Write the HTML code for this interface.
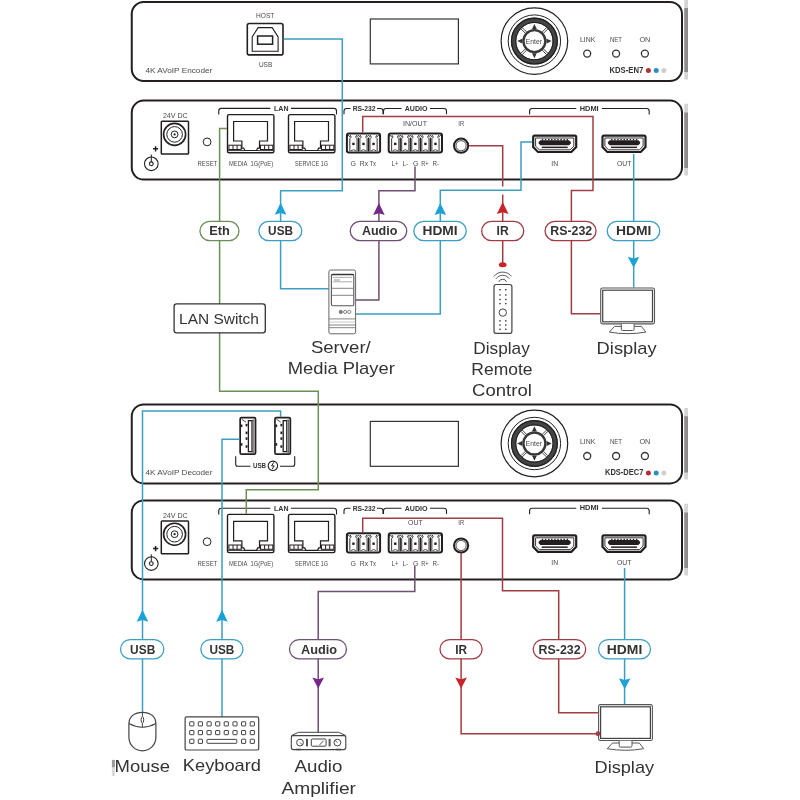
<!DOCTYPE html><html><head><meta charset="utf-8"><style>html,body{margin:0;padding:0;background:#fff;width:800px;height:800px;overflow:hidden}svg{display:block;will-change:transform;font-family:"Liberation Sans",sans-serif}</style></head><body>
<svg width="800" height="800" viewBox="0 0 800 800">
<rect x="684.3" y="0" width="3.7" height="79.5" fill="#d4d4d4"/>
<rect x="684.3" y="8" width="3.7" height="64" fill="#8c8c8c"/>
<rect x="684.3" y="103.75" width="3.7" height="71.75" fill="#d4d4d4"/>
<rect x="684.3" y="112.5" width="3.7" height="55.5" fill="#8c8c8c"/>
<rect x="684.3" y="408" width="3.7" height="71.5" fill="#d4d4d4"/>
<rect x="684.3" y="416.25" width="3.7" height="56.25" fill="#8c8c8c"/>
<rect x="684.3" y="503.75" width="3.7" height="71.75" fill="#d4d4d4"/>
<rect x="684.3" y="512.5" width="3.7" height="55.5" fill="#8c8c8c"/>
<rect x="131.75" y="2" width="550.25" height="79" rx="12" ry="12" fill="none" stroke="#231f20" stroke-width="2"/>
<rect x="370.3" y="19" width="88.1" height="44.9" fill="none" stroke="#333" stroke-width="1.2"/>
<circle cx="534.4" cy="41.1" r="33.3" fill="none" stroke="#231f20" stroke-width="1.2"/>
<circle cx="534.4" cy="41.1" r="26.2" fill="none" stroke="#231f20" stroke-width="1"/>
<circle cx="534.4" cy="41.1" r="20.8" fill="none" stroke="#444" stroke-width="5.4"/>
<circle cx="534.4" cy="41.1" r="22.9" fill="none" stroke="#1e1e1e" stroke-width="1.2"/>
<circle cx="534.4" cy="41.1" r="18.7" fill="none" stroke="#1e1e1e" stroke-width="1"/>
<circle cx="534.4" cy="41.1" r="11" fill="#fff" stroke="#383838" stroke-width="2.4"/>
<line x1="543.52" y1="48.95" x2="547.98" y2="53.40" stroke="#333" stroke-width="0.9"/>
<line x1="542.25" y1="50.22" x2="546.70" y2="54.68" stroke="#333" stroke-width="0.9"/>
<line x1="526.55" y1="50.22" x2="522.10" y2="54.68" stroke="#333" stroke-width="0.9"/>
<line x1="525.28" y1="48.95" x2="520.82" y2="53.40" stroke="#333" stroke-width="0.9"/>
<line x1="525.28" y1="33.25" x2="520.82" y2="28.80" stroke="#333" stroke-width="0.9"/>
<line x1="526.55" y1="31.98" x2="522.10" y2="27.52" stroke="#333" stroke-width="0.9"/>
<line x1="542.25" y1="31.98" x2="546.70" y2="27.52" stroke="#333" stroke-width="0.9"/>
<line x1="543.52" y1="33.25" x2="547.98" y2="28.80" stroke="#333" stroke-width="0.9"/>
<path d="M534.4,23.900000000000002 l2.4,5 h-4.8 z M534.4,58.3 l2.4,-5 h-4.8 z M517.1999999999999,41.1 l5,2.4 v-4.8 z M551.6,41.1 l-5,2.4 v-4.8 z" fill="#333"/>
<text x="525.60" y="43.5" font-size="7" fill="#4a4a4a" font-weight="normal" textLength="16.39" lengthAdjust="spacingAndGlyphs">Enter</text>
<circle cx="587.2" cy="53.6" r="3.5" fill="none" stroke="#333" stroke-width="1.3"/>
<text x="579.90" y="41.5" font-size="7" fill="#4a4a4a" font-weight="normal" textLength="15.41" lengthAdjust="spacingAndGlyphs">LINK</text>
<circle cx="616.1" cy="53.6" r="3.5" fill="none" stroke="#333" stroke-width="1.3"/>
<text x="609.90" y="41.5" font-size="7" fill="#4a4a4a" font-weight="normal" textLength="12.10" lengthAdjust="spacingAndGlyphs">NET</text>
<circle cx="644.9" cy="53.6" r="3.5" fill="none" stroke="#333" stroke-width="1.3"/>
<text x="639.40" y="41.5" font-size="7" fill="#4a4a4a" font-weight="normal" textLength="10.87" lengthAdjust="spacingAndGlyphs">ON</text>
<text x="609.50" y="72.5" font-size="8.5" fill="#333" font-weight="bold" textLength="33.78" lengthAdjust="spacingAndGlyphs">KDS-EN7</text>
<circle cx="648.4" cy="70.6" r="2.5" fill="#b52e3a"/>
<circle cx="656.2" cy="70.6" r="2.5" fill="#2a8fc0"/>
<circle cx="663.9" cy="70.6" r="2.5" fill="#cfcfcf"/>
<text x="145.50" y="72.7" font-size="7.8" fill="#4a4a4a" font-weight="normal" textLength="66.76" lengthAdjust="spacingAndGlyphs">4K AVoIP Encoder</text>
<rect x="247.3" y="23.5" width="35.7" height="31.4" rx="2" fill="none" stroke="#231f20" stroke-width="1.6"/>
<path d="M258.1,27.6 H272.2 L278.1,36.9 V51.3 H252.2 V36.9 Z" fill="none" stroke="#231f20" stroke-width="1.1"/>
<rect x="257.6" y="36" width="15" height="8.2" fill="none" stroke="#231f20" stroke-width="1.5"/>
<text x="256.00" y="17.5" font-size="7" fill="#4a4a4a" font-weight="normal" textLength="18.33" lengthAdjust="spacingAndGlyphs">HOST</text>
<text x="258.90" y="66.6" font-size="7" fill="#4a4a4a" font-weight="normal" textLength="13.38" lengthAdjust="spacingAndGlyphs">USB</text>
<rect x="131.75" y="100.6" width="550.25" height="79.0" rx="12" ry="12" fill="none" stroke="#231f20" stroke-width="2"/>
<rect x="161.3" y="121.3" width="27.2" height="32.7" rx="0.8" fill="none" stroke="#231f20" stroke-width="1.5"/>
<circle cx="174.6" cy="134.4" r="11" fill="none" stroke="#231f20" stroke-width="1.6"/>
<circle cx="174.6" cy="134.4" r="7.8" fill="none" stroke="#231f20" stroke-width="1"/>
<circle cx="174.6" cy="134.4" r="3.4" fill="none" stroke="#231f20" stroke-width="1"/>
<circle cx="174.6" cy="134.4" r="1.1" fill="#231f20"/>
<text x="162.90" y="118.2" font-size="7.4" fill="#4a4a4a" font-weight="normal" textLength="24.86" lengthAdjust="spacingAndGlyphs">24V DC</text>
<circle cx="151.3" cy="163.8" r="6.8" fill="none" stroke="#231f20" stroke-width="1.1"/>
<circle cx="151.3" cy="163.8" r="1.9" fill="none" stroke="#231f20" stroke-width="1.1"/>
<line x1="151.3" y1="154.5" x2="151.3" y2="161.9" stroke="#231f20" stroke-width="1"/>
<path d="M153,148.8 h5.2 M155.6,146.2 v5.2" stroke="#231f20" stroke-width="1.5"/>
<circle cx="207.1" cy="141.9" r="3.9" fill="none" stroke="#231f20" stroke-width="1"/>
<text x="197.50" y="165.9" font-size="7.2" fill="#4a4a4a" font-weight="normal" textLength="19.67" lengthAdjust="spacingAndGlyphs">RESET</text>
<path d="M218.75,114.6 V110.9 Q218.75,108.4 221.25,108.4 H270.3 M291,108.4 H334.0 Q336.5,108.4 336.5,110.9 V114.6" fill="none" stroke="#231f20" stroke-width="1.1"/>
<text x="274.10" y="110.7" font-size="7" fill="#333" font-weight="bold" textLength="14.39" lengthAdjust="spacingAndGlyphs">LAN</text>
<rect x="227.5" y="114.6" width="46.4" height="38.2" rx="1.5" fill="none" stroke="#231f20" stroke-width="1.4"/>
<path d="M233.6,121.5 H267.5 V141 H259.5 V148.1 H257.7 L256.5,150.5 H244.9 L243.70000000000002,148.1 H241.9 V141 H233.6 Z" fill="none" stroke="#231f20" stroke-width="1.2"/>
<rect x="228.90" y="145.2" width="12.3" height="4.3" fill="none" stroke="#231f20" stroke-width="1"/>
<rect x="232.50" y="145.2" width="1" height="4.3" fill="#231f20"/>
<rect x="236.60" y="145.2" width="1" height="4.3" fill="#231f20"/>
<rect x="260.50" y="145.2" width="12.3" height="4.3" fill="none" stroke="#231f20" stroke-width="1"/>
<rect x="264.10" y="145.2" width="1" height="4.3" fill="#231f20"/>
<rect x="268.20" y="145.2" width="1" height="4.3" fill="#231f20"/>
<path d="M227.9,150.6 H244.9 M256.5,150.6 H273.5" fill="none" stroke="#231f20" stroke-width="0.9"/>
<rect x="288.5" y="114.6" width="46.4" height="38.2" rx="1.5" fill="none" stroke="#231f20" stroke-width="1.4"/>
<path d="M294.59999999999997,121.5 H328.5 V141 H320.5 V148.1 H318.7 L317.5,150.5 H305.9 L304.7,148.1 H302.9 V141 H294.59999999999997 Z" fill="none" stroke="#231f20" stroke-width="1.2"/>
<rect x="289.90" y="145.2" width="12.3" height="4.3" fill="none" stroke="#231f20" stroke-width="1"/>
<rect x="293.50" y="145.2" width="1" height="4.3" fill="#231f20"/>
<rect x="297.60" y="145.2" width="1" height="4.3" fill="#231f20"/>
<rect x="321.50" y="145.2" width="12.3" height="4.3" fill="none" stroke="#231f20" stroke-width="1"/>
<rect x="325.10" y="145.2" width="1" height="4.3" fill="#231f20"/>
<rect x="329.20" y="145.2" width="1" height="4.3" fill="#231f20"/>
<path d="M288.9,150.6 H305.9 M317.5,150.6 H334.5" fill="none" stroke="#231f20" stroke-width="0.9"/>
<text x="229.00" y="165.7" font-size="6.6" fill="#4a4a4a" font-weight="normal" textLength="44.08" lengthAdjust="spacingAndGlyphs">MEDIA&#160;&#160;1G(PoE)</text>
<text x="295.00" y="165.7" font-size="6.6" fill="#4a4a4a" font-weight="normal" textLength="33.19" lengthAdjust="spacingAndGlyphs">SERVICE 1G</text>
<path d="M344,114.2 V111.0 Q344,108.5 346.5,108.5 H350.5 M377,108.5 H380.5 Q383,108.5 383,111.0 V114.2" fill="none" stroke="#231f20" stroke-width="1.1"/>
<text x="352.70" y="110.9" font-size="7" fill="#333" font-weight="bold" textLength="22.91" lengthAdjust="spacingAndGlyphs">RS-232</text>
<path d="M383.5,114.2 V111.0 Q383.5,108.5 386.0,108.5 H401.5 M430,108.5 H444.0 Q446.5,108.5 446.5,111.0 V114.2" fill="none" stroke="#231f20" stroke-width="1.1"/>
<text x="404.70" y="110.9" font-size="7" fill="#333" font-weight="bold" textLength="22.77" lengthAdjust="spacingAndGlyphs">AUDIO</text>
<text x="403.00" y="125.6" font-size="6.8" fill="#4a4a4a" font-weight="normal" textLength="24.05" lengthAdjust="spacingAndGlyphs">IN/OUT</text>
<rect x="346.9" y="133.5" width="33.18" height="19.1" rx="2" fill="none" stroke="#231f20" stroke-width="2"/>
<path d="M349.83,151.1 V138.7 L351.23,137.1 L350.13,135.1 M357.03,151.1 V138.7 L355.63,137.1 L356.73,135.1" fill="none" stroke="#231f20" stroke-width="0.9"/>
<rect x="352.23" y="142.7" width="2.4" height="2.4" fill="#231f20"/>
<path d="M350.63,150.9 Q353.43,148.5 356.23,150.9" fill="none" stroke="#231f20" stroke-width="0.8"/>
<path d="M359.89,151.1 V138.7 L361.29,137.1 L360.19,135.1 M367.09,151.1 V138.7 L365.69,137.1 L366.79,135.1" fill="none" stroke="#231f20" stroke-width="0.9"/>
<rect x="362.29" y="142.7" width="2.4" height="2.4" fill="#231f20"/>
<path d="M360.69,150.9 Q363.49,148.5 366.29,150.9" fill="none" stroke="#231f20" stroke-width="0.8"/>
<path d="M369.95,151.1 V138.7 L371.35,137.1 L370.25,135.1 M377.15,151.1 V138.7 L375.75,137.1 L376.85,135.1" fill="none" stroke="#231f20" stroke-width="0.9"/>
<rect x="372.35" y="142.7" width="2.4" height="2.4" fill="#231f20"/>
<path d="M370.75,150.9 Q373.55,148.5 376.35,150.9" fill="none" stroke="#231f20" stroke-width="0.8"/>
<path d="M346.80,137.1 L348.40,135.1 L350.00,137.1" fill="none" stroke="#231f20" stroke-width="0.8"/>
<line x1="358.46" y1="137.5" x2="358.46" y2="151.5" stroke="#231f20" stroke-width="1.3"/>
<path d="M356.86,137.1 L358.46,135.1 L360.06,137.1" fill="none" stroke="#231f20" stroke-width="0.8"/>
<line x1="368.52" y1="137.5" x2="368.52" y2="151.5" stroke="#231f20" stroke-width="1.3"/>
<path d="M366.92,137.1 L368.52,135.1 L370.12,137.1" fill="none" stroke="#231f20" stroke-width="0.8"/>
<path d="M376.98,137.1 L378.58,135.1 L380.18,137.1" fill="none" stroke="#231f20" stroke-width="0.8"/>
<rect x="388.7" y="133.5" width="53.30" height="19.1" rx="2" fill="none" stroke="#231f20" stroke-width="2"/>
<path d="M391.63,151.1 V138.7 L393.03,137.1 L391.93,135.1 M398.83,151.1 V138.7 L397.43,137.1 L398.53,135.1" fill="none" stroke="#231f20" stroke-width="0.9"/>
<rect x="394.03" y="142.7" width="2.4" height="2.4" fill="#231f20"/>
<path d="M392.43,150.9 Q395.23,148.5 398.03,150.9" fill="none" stroke="#231f20" stroke-width="0.8"/>
<path d="M401.69,151.1 V138.7 L403.09,137.1 L401.99,135.1 M408.89,151.1 V138.7 L407.49,137.1 L408.59,135.1" fill="none" stroke="#231f20" stroke-width="0.9"/>
<rect x="404.09" y="142.7" width="2.4" height="2.4" fill="#231f20"/>
<path d="M402.49,150.9 Q405.29,148.5 408.09,150.9" fill="none" stroke="#231f20" stroke-width="0.8"/>
<path d="M411.75,151.1 V138.7 L413.15,137.1 L412.05,135.1 M418.95,151.1 V138.7 L417.55,137.1 L418.65,135.1" fill="none" stroke="#231f20" stroke-width="0.9"/>
<rect x="414.15" y="142.7" width="2.4" height="2.4" fill="#231f20"/>
<path d="M412.55,150.9 Q415.35,148.5 418.15,150.9" fill="none" stroke="#231f20" stroke-width="0.8"/>
<path d="M421.81,151.1 V138.7 L423.21,137.1 L422.11,135.1 M429.01,151.1 V138.7 L427.61,137.1 L428.71,135.1" fill="none" stroke="#231f20" stroke-width="0.9"/>
<rect x="424.21" y="142.7" width="2.4" height="2.4" fill="#231f20"/>
<path d="M422.61,150.9 Q425.41,148.5 428.21,150.9" fill="none" stroke="#231f20" stroke-width="0.8"/>
<path d="M431.87,151.1 V138.7 L433.27,137.1 L432.17,135.1 M439.07,151.1 V138.7 L437.67,137.1 L438.77,135.1" fill="none" stroke="#231f20" stroke-width="0.9"/>
<rect x="434.27" y="142.7" width="2.4" height="2.4" fill="#231f20"/>
<path d="M432.67,150.9 Q435.47,148.5 438.27,150.9" fill="none" stroke="#231f20" stroke-width="0.8"/>
<path d="M388.60,137.1 L390.20,135.1 L391.80,137.1" fill="none" stroke="#231f20" stroke-width="0.8"/>
<line x1="400.26" y1="137.5" x2="400.26" y2="151.5" stroke="#231f20" stroke-width="1.3"/>
<path d="M398.66,137.1 L400.26,135.1 L401.86,137.1" fill="none" stroke="#231f20" stroke-width="0.8"/>
<line x1="410.32" y1="137.5" x2="410.32" y2="151.5" stroke="#231f20" stroke-width="1.3"/>
<path d="M408.72,137.1 L410.32,135.1 L411.92,137.1" fill="none" stroke="#231f20" stroke-width="0.8"/>
<line x1="420.38" y1="137.5" x2="420.38" y2="151.5" stroke="#231f20" stroke-width="1.3"/>
<path d="M418.78,137.1 L420.38,135.1 L421.98,137.1" fill="none" stroke="#231f20" stroke-width="0.8"/>
<line x1="430.44" y1="137.5" x2="430.44" y2="151.5" stroke="#231f20" stroke-width="1.3"/>
<path d="M428.84,137.1 L430.44,135.1 L432.04,137.1" fill="none" stroke="#231f20" stroke-width="0.8"/>
<path d="M438.90,137.1 L440.50,135.1 L442.10,137.1" fill="none" stroke="#231f20" stroke-width="0.8"/>
<text x="350.60" y="165.75" font-size="7" fill="#4a4a4a" font-weight="normal" textLength="5.45" lengthAdjust="spacingAndGlyphs">G</text>
<text x="359.75" y="165.75" font-size="7" fill="#4a4a4a" font-weight="normal" textLength="8.29" lengthAdjust="spacingAndGlyphs">Rx</text>
<text x="369.40" y="165.75" font-size="7" fill="#4a4a4a" font-weight="normal" textLength="6.66" lengthAdjust="spacingAndGlyphs">Tx</text>
<text x="391.50" y="165.75" font-size="7" fill="#4a4a4a" font-weight="normal" textLength="6.99" lengthAdjust="spacingAndGlyphs">L+</text>
<text x="402.50" y="165.75" font-size="7" fill="#4a4a4a" font-weight="normal" textLength="5.61" lengthAdjust="spacingAndGlyphs">L-</text>
<text x="413.10" y="165.75" font-size="7" fill="#4a4a4a" font-weight="normal" textLength="5.45" lengthAdjust="spacingAndGlyphs">G</text>
<text x="421.25" y="165.75" font-size="7" fill="#4a4a4a" font-weight="normal" textLength="7.38" lengthAdjust="spacingAndGlyphs">R+</text>
<text x="432.50" y="165.75" font-size="7" fill="#4a4a4a" font-weight="normal" textLength="6.60" lengthAdjust="spacingAndGlyphs">R-</text>
<circle cx="461.1" cy="145.7" r="7.1" fill="none" stroke="#231f20" stroke-width="2"/>
<circle cx="461.1" cy="145.7" r="5.1" fill="none" stroke="#231f20" stroke-width="0.8"/>
<text x="458.30" y="125.6" font-size="6.8" fill="#4a4a4a" font-weight="normal" textLength="5.84" lengthAdjust="spacingAndGlyphs">IR</text>
<path d="M529.6,114.5 V111.0 Q529.6,108.5 532.1,108.5 H576.25 M601.9,108.5 H646.7 Q649.2,108.5 649.2,111.0 V114.5" fill="none" stroke="#231f20" stroke-width="1.1"/>
<text x="579.75" y="110.6" font-size="7" fill="#333" font-weight="bold" textLength="18.88" lengthAdjust="spacingAndGlyphs">HDMI</text>
<path d="M533.2,137.0 Q533.2,135.6 534.6,135.6 H574.8000000000001 Q576.2,135.6 576.2,137.0 V147.0 L571.4000000000001,152.0 H538.0 L533.2,147.0 Z" fill="none" stroke="#231f20" stroke-width="2.2"/>
<path d="M535.6,138.0 H573.8000000000001 V146.2 L570.1,149.79999999999998 H539.3000000000001 L535.6,146.2 Z" fill="none" stroke="#231f20" stroke-width="0.9"/>
<path d="M538.6,142.0 L540.4000000000001,140.2 H569.0 L570.8000000000001,142.0 V143.5 L569.0,145.2 H540.4000000000001 L538.6,143.5 Z" fill="#231f20"/>
<rect x="541.80" y="139.0" width="1.4" height="1.4" fill="#231f20"/>
<rect x="544.90" y="139.0" width="1.4" height="1.4" fill="#231f20"/>
<rect x="548.00" y="139.0" width="1.4" height="1.4" fill="#231f20"/>
<rect x="551.10" y="139.0" width="1.4" height="1.4" fill="#231f20"/>
<rect x="554.20" y="139.0" width="1.4" height="1.4" fill="#231f20"/>
<rect x="557.30" y="139.0" width="1.4" height="1.4" fill="#231f20"/>
<rect x="560.40" y="139.0" width="1.4" height="1.4" fill="#231f20"/>
<rect x="563.50" y="139.0" width="1.4" height="1.4" fill="#231f20"/>
<rect x="566.60" y="139.0" width="1.4" height="1.4" fill="#231f20"/>
<rect x="541.7" y="146.6" width="26" height="1.5" fill="#231f20"/>
<path d="M602.5,137.0 Q602.5,135.6 603.9,135.6 H644.1 Q645.5,135.6 645.5,137.0 V147.0 L640.7,152.0 H607.3 L602.5,147.0 Z" fill="none" stroke="#231f20" stroke-width="2.2"/>
<path d="M604.9,138.0 H643.1 V146.2 L639.4,149.79999999999998 H608.6 L604.9,146.2 Z" fill="none" stroke="#231f20" stroke-width="0.9"/>
<path d="M607.9,142.0 L609.7,140.2 H638.3 L640.1,142.0 V143.5 L638.3,145.2 H609.7 L607.9,143.5 Z" fill="#231f20"/>
<rect x="611.10" y="139.0" width="1.4" height="1.4" fill="#231f20"/>
<rect x="614.20" y="139.0" width="1.4" height="1.4" fill="#231f20"/>
<rect x="617.30" y="139.0" width="1.4" height="1.4" fill="#231f20"/>
<rect x="620.40" y="139.0" width="1.4" height="1.4" fill="#231f20"/>
<rect x="623.50" y="139.0" width="1.4" height="1.4" fill="#231f20"/>
<rect x="626.60" y="139.0" width="1.4" height="1.4" fill="#231f20"/>
<rect x="629.70" y="139.0" width="1.4" height="1.4" fill="#231f20"/>
<rect x="632.80" y="139.0" width="1.4" height="1.4" fill="#231f20"/>
<rect x="635.90" y="139.0" width="1.4" height="1.4" fill="#231f20"/>
<rect x="611.0" y="146.6" width="26" height="1.5" fill="#231f20"/>
<text x="551.25" y="165.6" font-size="7" fill="#4a4a4a" font-weight="normal" textLength="6.85" lengthAdjust="spacingAndGlyphs">IN</text>
<text x="616.90" y="165.6" font-size="7" fill="#4a4a4a" font-weight="normal" textLength="14.46" lengthAdjust="spacingAndGlyphs">OUT</text>
<rect x="131.75" y="404.4" width="550.25" height="79.0" rx="12" ry="12" fill="none" stroke="#231f20" stroke-width="2"/>
<rect x="370.3" y="421.4" width="88.1" height="44.9" fill="none" stroke="#333" stroke-width="1.2"/>
<circle cx="534.4" cy="443.5" r="33.3" fill="none" stroke="#231f20" stroke-width="1.2"/>
<circle cx="534.4" cy="443.5" r="26.2" fill="none" stroke="#231f20" stroke-width="1"/>
<circle cx="534.4" cy="443.5" r="20.8" fill="none" stroke="#444" stroke-width="5.4"/>
<circle cx="534.4" cy="443.5" r="22.9" fill="none" stroke="#1e1e1e" stroke-width="1.2"/>
<circle cx="534.4" cy="443.5" r="18.7" fill="none" stroke="#1e1e1e" stroke-width="1"/>
<circle cx="534.4" cy="443.5" r="11" fill="#fff" stroke="#383838" stroke-width="2.4"/>
<line x1="543.52" y1="451.35" x2="547.98" y2="455.80" stroke="#333" stroke-width="0.9"/>
<line x1="542.25" y1="452.62" x2="546.70" y2="457.08" stroke="#333" stroke-width="0.9"/>
<line x1="526.55" y1="452.62" x2="522.10" y2="457.08" stroke="#333" stroke-width="0.9"/>
<line x1="525.28" y1="451.35" x2="520.82" y2="455.80" stroke="#333" stroke-width="0.9"/>
<line x1="525.28" y1="435.65" x2="520.82" y2="431.20" stroke="#333" stroke-width="0.9"/>
<line x1="526.55" y1="434.38" x2="522.10" y2="429.92" stroke="#333" stroke-width="0.9"/>
<line x1="542.25" y1="434.38" x2="546.70" y2="429.92" stroke="#333" stroke-width="0.9"/>
<line x1="543.52" y1="435.65" x2="547.98" y2="431.20" stroke="#333" stroke-width="0.9"/>
<path d="M534.4,426.3 l2.4,5 h-4.8 z M534.4,460.7 l2.4,-5 h-4.8 z M517.1999999999999,443.5 l5,2.4 v-4.8 z M551.6,443.5 l-5,2.4 v-4.8 z" fill="#333"/>
<text x="525.60" y="445.9" font-size="7" fill="#4a4a4a" font-weight="normal" textLength="16.39" lengthAdjust="spacingAndGlyphs">Enter</text>
<circle cx="587.2" cy="456.0" r="3.5" fill="none" stroke="#333" stroke-width="1.3"/>
<text x="579.90" y="443.9" font-size="7" fill="#4a4a4a" font-weight="normal" textLength="15.41" lengthAdjust="spacingAndGlyphs">LINK</text>
<circle cx="616.1" cy="456.0" r="3.5" fill="none" stroke="#333" stroke-width="1.3"/>
<text x="609.90" y="443.9" font-size="7" fill="#4a4a4a" font-weight="normal" textLength="12.10" lengthAdjust="spacingAndGlyphs">NET</text>
<circle cx="644.9" cy="456.0" r="3.5" fill="none" stroke="#333" stroke-width="1.3"/>
<text x="639.40" y="443.9" font-size="7" fill="#4a4a4a" font-weight="normal" textLength="10.87" lengthAdjust="spacingAndGlyphs">ON</text>
<text x="605.00" y="475.0" font-size="8.5" fill="#333" font-weight="bold" textLength="38.40" lengthAdjust="spacingAndGlyphs">KDS-DEC7</text>
<circle cx="648.4" cy="473.0" r="2.5" fill="#b52e3a"/>
<circle cx="656.2" cy="473.0" r="2.5" fill="#2a8fc0"/>
<circle cx="663.9" cy="473.0" r="2.5" fill="#cfcfcf"/>
<text x="145.50" y="475.0" font-size="7.8" fill="#4a4a4a" font-weight="normal" textLength="66.87" lengthAdjust="spacingAndGlyphs">4K AVoIP Decoder</text>
<rect x="240.15" y="417.60" width="15.4" height="36.5" rx="1.4" fill="none" stroke="#231f20" stroke-width="1.7"/>
<rect x="248.40" y="420.65" width="3.6" height="31" fill="none" stroke="#231f20" stroke-width="1.3"/>
<line x1="253.80" y1="420.15" x2="253.80" y2="452.15" stroke="#333" stroke-width="0.8"/>
<path d="M252.50,420.05 H254.20 M252.50,452.25 H254.20" stroke="#333" stroke-width="0.9"/>
<rect x="240.60" y="424.50" width="1.8" height="2.6" fill="#231f20"/>
<rect x="240.60" y="443.10" width="1.8" height="2.6" fill="#231f20"/>
<rect x="245.60" y="423.85" width="1.9" height="2.5" fill="#231f20"/>
<rect x="245.60" y="431.55" width="1.9" height="2.5" fill="#231f20"/>
<rect x="245.60" y="437.35" width="1.9" height="2.5" fill="#231f20"/>
<rect x="245.60" y="445.25" width="1.9" height="2.5" fill="#231f20"/>
<path d="M241.60,419.15 L245.90,422.15" stroke="#231f20" stroke-width="0.8"/>
<rect x="274.95" y="417.60" width="15.4" height="36.5" rx="1.4" fill="none" stroke="#231f20" stroke-width="1.7"/>
<rect x="283.20" y="420.65" width="3.6" height="31" fill="none" stroke="#231f20" stroke-width="1.3"/>
<line x1="288.60" y1="420.15" x2="288.60" y2="452.15" stroke="#333" stroke-width="0.8"/>
<path d="M287.30,420.05 H289.00 M287.30,452.25 H289.00" stroke="#333" stroke-width="0.9"/>
<rect x="275.40" y="424.50" width="1.8" height="2.6" fill="#231f20"/>
<rect x="275.40" y="443.10" width="1.8" height="2.6" fill="#231f20"/>
<rect x="280.40" y="423.85" width="1.9" height="2.5" fill="#231f20"/>
<rect x="280.40" y="431.55" width="1.9" height="2.5" fill="#231f20"/>
<rect x="280.40" y="437.35" width="1.9" height="2.5" fill="#231f20"/>
<rect x="280.40" y="445.25" width="1.9" height="2.5" fill="#231f20"/>
<path d="M276.40,419.15 L280.70,422.15" stroke="#231f20" stroke-width="0.8"/>
<path d="M235.7,456.2 V464.3 Q235.7,466.3 237.7,466.3 H250.5 M280,466.3 H292.7 Q294.7,466.3 294.7,464.3 V456.2" fill="none" stroke="#231f20" stroke-width="1.1"/>
<text x="252.90" y="468.4" font-size="7.2" fill="#333" font-weight="bold" textLength="13.16" lengthAdjust="spacingAndGlyphs">USB</text>
<circle cx="272.9" cy="465.8" r="4.7" fill="none" stroke="#231f20" stroke-width="1.1"/>
<path d="M273.8,462.3 L271.6,465.9 H274.2 L272,469.3" fill="none" stroke="#231f20" stroke-width="1"/>
<rect x="131.75" y="500.4" width="550.25" height="79.0" rx="12" ry="12" fill="none" stroke="#231f20" stroke-width="2"/>
<rect x="161.3" y="521.1" width="27.2" height="32.7" rx="0.8" fill="none" stroke="#231f20" stroke-width="1.5"/>
<circle cx="174.6" cy="534.2" r="11" fill="none" stroke="#231f20" stroke-width="1.6"/>
<circle cx="174.6" cy="534.2" r="7.8" fill="none" stroke="#231f20" stroke-width="1"/>
<circle cx="174.6" cy="534.2" r="3.4" fill="none" stroke="#231f20" stroke-width="1"/>
<circle cx="174.6" cy="534.2" r="1.1" fill="#231f20"/>
<text x="162.90" y="518.0" font-size="7.4" fill="#4a4a4a" font-weight="normal" textLength="24.86" lengthAdjust="spacingAndGlyphs">24V DC</text>
<circle cx="151.3" cy="563.6" r="6.8" fill="none" stroke="#231f20" stroke-width="1.1"/>
<circle cx="151.3" cy="563.6" r="1.9" fill="none" stroke="#231f20" stroke-width="1.1"/>
<line x1="151.3" y1="554.3" x2="151.3" y2="561.7" stroke="#231f20" stroke-width="1"/>
<path d="M153,548.6 h5.2 M155.6,546.0 v5.2" stroke="#231f20" stroke-width="1.5"/>
<circle cx="207.1" cy="541.7" r="3.9" fill="none" stroke="#231f20" stroke-width="1"/>
<text x="197.50" y="565.7" font-size="7.2" fill="#4a4a4a" font-weight="normal" textLength="19.67" lengthAdjust="spacingAndGlyphs">RESET</text>
<path d="M218.75,514.4 V510.70000000000005 Q218.75,508.20000000000005 221.25,508.20000000000005 H270.3 M291,508.20000000000005 H334.0 Q336.5,508.20000000000005 336.5,510.70000000000005 V514.4" fill="none" stroke="#231f20" stroke-width="1.1"/>
<text x="274.10" y="510.5" font-size="7" fill="#333" font-weight="bold" textLength="14.39" lengthAdjust="spacingAndGlyphs">LAN</text>
<rect x="227.5" y="514.4" width="46.4" height="38.2" rx="1.5" fill="none" stroke="#231f20" stroke-width="1.4"/>
<path d="M233.6,521.3 H267.5 V540.8 H259.5 V547.9 H257.7 L256.5,550.3 H244.9 L243.70000000000002,547.9 H241.9 V540.8 H233.6 Z" fill="none" stroke="#231f20" stroke-width="1.2"/>
<rect x="228.90" y="545.0" width="12.3" height="4.3" fill="none" stroke="#231f20" stroke-width="1"/>
<rect x="232.50" y="545.0" width="1" height="4.3" fill="#231f20"/>
<rect x="236.60" y="545.0" width="1" height="4.3" fill="#231f20"/>
<rect x="260.50" y="545.0" width="12.3" height="4.3" fill="none" stroke="#231f20" stroke-width="1"/>
<rect x="264.10" y="545.0" width="1" height="4.3" fill="#231f20"/>
<rect x="268.20" y="545.0" width="1" height="4.3" fill="#231f20"/>
<path d="M227.9,550.4 H244.9 M256.5,550.4 H273.5" fill="none" stroke="#231f20" stroke-width="0.9"/>
<rect x="288.5" y="514.4" width="46.4" height="38.2" rx="1.5" fill="none" stroke="#231f20" stroke-width="1.4"/>
<path d="M294.59999999999997,521.3 H328.5 V540.8 H320.5 V547.9 H318.7 L317.5,550.3 H305.9 L304.7,547.9 H302.9 V540.8 H294.59999999999997 Z" fill="none" stroke="#231f20" stroke-width="1.2"/>
<rect x="289.90" y="545.0" width="12.3" height="4.3" fill="none" stroke="#231f20" stroke-width="1"/>
<rect x="293.50" y="545.0" width="1" height="4.3" fill="#231f20"/>
<rect x="297.60" y="545.0" width="1" height="4.3" fill="#231f20"/>
<rect x="321.50" y="545.0" width="12.3" height="4.3" fill="none" stroke="#231f20" stroke-width="1"/>
<rect x="325.10" y="545.0" width="1" height="4.3" fill="#231f20"/>
<rect x="329.20" y="545.0" width="1" height="4.3" fill="#231f20"/>
<path d="M288.9,550.4 H305.9 M317.5,550.4 H334.5" fill="none" stroke="#231f20" stroke-width="0.9"/>
<text x="229.00" y="565.5" font-size="6.6" fill="#4a4a4a" font-weight="normal" textLength="44.08" lengthAdjust="spacingAndGlyphs">MEDIA&#160;&#160;1G(PoE)</text>
<text x="295.00" y="565.5" font-size="6.6" fill="#4a4a4a" font-weight="normal" textLength="33.19" lengthAdjust="spacingAndGlyphs">SERVICE 1G</text>
<path d="M344,514.0 V510.8 Q344,508.3 346.5,508.3 H350.5 M377,508.3 H380.5 Q383,508.3 383,510.8 V514.0" fill="none" stroke="#231f20" stroke-width="1.1"/>
<text x="352.70" y="510.70000000000005" font-size="7" fill="#333" font-weight="bold" textLength="22.91" lengthAdjust="spacingAndGlyphs">RS-232</text>
<path d="M383.5,514.0 V510.8 Q383.5,508.3 386.0,508.3 H401.5 M430,508.3 H444.0 Q446.5,508.3 446.5,510.8 V514.0" fill="none" stroke="#231f20" stroke-width="1.1"/>
<text x="404.70" y="510.70000000000005" font-size="7" fill="#333" font-weight="bold" textLength="22.77" lengthAdjust="spacingAndGlyphs">AUDIO</text>
<text x="408.00" y="525.4" font-size="6.8" fill="#4a4a4a" font-weight="normal" textLength="14.67" lengthAdjust="spacingAndGlyphs">OUT</text>
<rect x="346.9" y="533.3" width="33.18" height="19.1" rx="2" fill="none" stroke="#231f20" stroke-width="2"/>
<path d="M349.83,550.9 V538.5 L351.23,536.9 L350.13,534.9 M357.03,550.9 V538.5 L355.63,536.9 L356.73,534.9" fill="none" stroke="#231f20" stroke-width="0.9"/>
<rect x="352.23" y="542.5" width="2.4" height="2.4" fill="#231f20"/>
<path d="M350.63,550.6999999999999 Q353.43,548.3 356.23,550.6999999999999" fill="none" stroke="#231f20" stroke-width="0.8"/>
<path d="M359.89,550.9 V538.5 L361.29,536.9 L360.19,534.9 M367.09,550.9 V538.5 L365.69,536.9 L366.79,534.9" fill="none" stroke="#231f20" stroke-width="0.9"/>
<rect x="362.29" y="542.5" width="2.4" height="2.4" fill="#231f20"/>
<path d="M360.69,550.6999999999999 Q363.49,548.3 366.29,550.6999999999999" fill="none" stroke="#231f20" stroke-width="0.8"/>
<path d="M369.95,550.9 V538.5 L371.35,536.9 L370.25,534.9 M377.15,550.9 V538.5 L375.75,536.9 L376.85,534.9" fill="none" stroke="#231f20" stroke-width="0.9"/>
<rect x="372.35" y="542.5" width="2.4" height="2.4" fill="#231f20"/>
<path d="M370.75,550.6999999999999 Q373.55,548.3 376.35,550.6999999999999" fill="none" stroke="#231f20" stroke-width="0.8"/>
<path d="M346.80,536.9 L348.40,534.9 L350.00,536.9" fill="none" stroke="#231f20" stroke-width="0.8"/>
<line x1="358.46" y1="537.3" x2="358.46" y2="551.3" stroke="#231f20" stroke-width="1.3"/>
<path d="M356.86,536.9 L358.46,534.9 L360.06,536.9" fill="none" stroke="#231f20" stroke-width="0.8"/>
<line x1="368.52" y1="537.3" x2="368.52" y2="551.3" stroke="#231f20" stroke-width="1.3"/>
<path d="M366.92,536.9 L368.52,534.9 L370.12,536.9" fill="none" stroke="#231f20" stroke-width="0.8"/>
<path d="M376.98,536.9 L378.58,534.9 L380.18,536.9" fill="none" stroke="#231f20" stroke-width="0.8"/>
<rect x="388.7" y="533.3" width="53.30" height="19.1" rx="2" fill="none" stroke="#231f20" stroke-width="2"/>
<path d="M391.63,550.9 V538.5 L393.03,536.9 L391.93,534.9 M398.83,550.9 V538.5 L397.43,536.9 L398.53,534.9" fill="none" stroke="#231f20" stroke-width="0.9"/>
<rect x="394.03" y="542.5" width="2.4" height="2.4" fill="#231f20"/>
<path d="M392.43,550.6999999999999 Q395.23,548.3 398.03,550.6999999999999" fill="none" stroke="#231f20" stroke-width="0.8"/>
<path d="M401.69,550.9 V538.5 L403.09,536.9 L401.99,534.9 M408.89,550.9 V538.5 L407.49,536.9 L408.59,534.9" fill="none" stroke="#231f20" stroke-width="0.9"/>
<rect x="404.09" y="542.5" width="2.4" height="2.4" fill="#231f20"/>
<path d="M402.49,550.6999999999999 Q405.29,548.3 408.09,550.6999999999999" fill="none" stroke="#231f20" stroke-width="0.8"/>
<path d="M411.75,550.9 V538.5 L413.15,536.9 L412.05,534.9 M418.95,550.9 V538.5 L417.55,536.9 L418.65,534.9" fill="none" stroke="#231f20" stroke-width="0.9"/>
<rect x="414.15" y="542.5" width="2.4" height="2.4" fill="#231f20"/>
<path d="M412.55,550.6999999999999 Q415.35,548.3 418.15,550.6999999999999" fill="none" stroke="#231f20" stroke-width="0.8"/>
<path d="M421.81,550.9 V538.5 L423.21,536.9 L422.11,534.9 M429.01,550.9 V538.5 L427.61,536.9 L428.71,534.9" fill="none" stroke="#231f20" stroke-width="0.9"/>
<rect x="424.21" y="542.5" width="2.4" height="2.4" fill="#231f20"/>
<path d="M422.61,550.6999999999999 Q425.41,548.3 428.21,550.6999999999999" fill="none" stroke="#231f20" stroke-width="0.8"/>
<path d="M431.87,550.9 V538.5 L433.27,536.9 L432.17,534.9 M439.07,550.9 V538.5 L437.67,536.9 L438.77,534.9" fill="none" stroke="#231f20" stroke-width="0.9"/>
<rect x="434.27" y="542.5" width="2.4" height="2.4" fill="#231f20"/>
<path d="M432.67,550.6999999999999 Q435.47,548.3 438.27,550.6999999999999" fill="none" stroke="#231f20" stroke-width="0.8"/>
<path d="M388.60,536.9 L390.20,534.9 L391.80,536.9" fill="none" stroke="#231f20" stroke-width="0.8"/>
<line x1="400.26" y1="537.3" x2="400.26" y2="551.3" stroke="#231f20" stroke-width="1.3"/>
<path d="M398.66,536.9 L400.26,534.9 L401.86,536.9" fill="none" stroke="#231f20" stroke-width="0.8"/>
<line x1="410.32" y1="537.3" x2="410.32" y2="551.3" stroke="#231f20" stroke-width="1.3"/>
<path d="M408.72,536.9 L410.32,534.9 L411.92,536.9" fill="none" stroke="#231f20" stroke-width="0.8"/>
<line x1="420.38" y1="537.3" x2="420.38" y2="551.3" stroke="#231f20" stroke-width="1.3"/>
<path d="M418.78,536.9 L420.38,534.9 L421.98,536.9" fill="none" stroke="#231f20" stroke-width="0.8"/>
<line x1="430.44" y1="537.3" x2="430.44" y2="551.3" stroke="#231f20" stroke-width="1.3"/>
<path d="M428.84,536.9 L430.44,534.9 L432.04,536.9" fill="none" stroke="#231f20" stroke-width="0.8"/>
<path d="M438.90,536.9 L440.50,534.9 L442.10,536.9" fill="none" stroke="#231f20" stroke-width="0.8"/>
<text x="350.60" y="565.55" font-size="7" fill="#4a4a4a" font-weight="normal" textLength="5.45" lengthAdjust="spacingAndGlyphs">G</text>
<text x="359.75" y="565.55" font-size="7" fill="#4a4a4a" font-weight="normal" textLength="8.29" lengthAdjust="spacingAndGlyphs">Rx</text>
<text x="369.40" y="565.55" font-size="7" fill="#4a4a4a" font-weight="normal" textLength="6.66" lengthAdjust="spacingAndGlyphs">Tx</text>
<text x="391.50" y="565.55" font-size="7" fill="#4a4a4a" font-weight="normal" textLength="6.99" lengthAdjust="spacingAndGlyphs">L+</text>
<text x="402.50" y="565.55" font-size="7" fill="#4a4a4a" font-weight="normal" textLength="5.61" lengthAdjust="spacingAndGlyphs">L-</text>
<text x="413.10" y="565.55" font-size="7" fill="#4a4a4a" font-weight="normal" textLength="5.45" lengthAdjust="spacingAndGlyphs">G</text>
<text x="421.25" y="565.55" font-size="7" fill="#4a4a4a" font-weight="normal" textLength="7.38" lengthAdjust="spacingAndGlyphs">R+</text>
<text x="432.50" y="565.55" font-size="7" fill="#4a4a4a" font-weight="normal" textLength="6.60" lengthAdjust="spacingAndGlyphs">R-</text>
<circle cx="461.1" cy="545.5" r="7.1" fill="none" stroke="#231f20" stroke-width="2"/>
<circle cx="461.1" cy="545.5" r="5.1" fill="none" stroke="#231f20" stroke-width="0.8"/>
<text x="458.30" y="525.4" font-size="6.8" fill="#4a4a4a" font-weight="normal" textLength="5.84" lengthAdjust="spacingAndGlyphs">IR</text>
<path d="M529.6,514.3 V510.8 Q529.6,508.3 532.1,508.3 H576.25 M601.9,508.3 H646.7 Q649.2,508.3 649.2,510.8 V514.3" fill="none" stroke="#231f20" stroke-width="1.1"/>
<text x="579.75" y="510.4" font-size="7" fill="#333" font-weight="bold" textLength="18.88" lengthAdjust="spacingAndGlyphs">HDMI</text>
<path d="M533.2,536.8 Q533.2,535.4 534.6,535.4 H574.8000000000001 Q576.2,535.4 576.2,536.8 V546.8 L571.4000000000001,551.8 H538.0 L533.2,546.8 Z" fill="none" stroke="#231f20" stroke-width="2.2"/>
<path d="M535.6,537.8 H573.8000000000001 V546.0 L570.1,549.6 H539.3000000000001 L535.6,546.0 Z" fill="none" stroke="#231f20" stroke-width="0.9"/>
<path d="M538.6,541.8 L540.4000000000001,540.0 H569.0 L570.8000000000001,541.8 V543.3 L569.0,545.0 H540.4000000000001 L538.6,543.3 Z" fill="#231f20"/>
<rect x="541.80" y="538.8" width="1.4" height="1.4" fill="#231f20"/>
<rect x="544.90" y="538.8" width="1.4" height="1.4" fill="#231f20"/>
<rect x="548.00" y="538.8" width="1.4" height="1.4" fill="#231f20"/>
<rect x="551.10" y="538.8" width="1.4" height="1.4" fill="#231f20"/>
<rect x="554.20" y="538.8" width="1.4" height="1.4" fill="#231f20"/>
<rect x="557.30" y="538.8" width="1.4" height="1.4" fill="#231f20"/>
<rect x="560.40" y="538.8" width="1.4" height="1.4" fill="#231f20"/>
<rect x="563.50" y="538.8" width="1.4" height="1.4" fill="#231f20"/>
<rect x="566.60" y="538.8" width="1.4" height="1.4" fill="#231f20"/>
<rect x="541.7" y="546.4" width="26" height="1.5" fill="#231f20"/>
<path d="M602.5,536.8 Q602.5,535.4 603.9,535.4 H644.1 Q645.5,535.4 645.5,536.8 V546.8 L640.7,551.8 H607.3 L602.5,546.8 Z" fill="none" stroke="#231f20" stroke-width="2.2"/>
<path d="M604.9,537.8 H643.1 V546.0 L639.4,549.6 H608.6 L604.9,546.0 Z" fill="none" stroke="#231f20" stroke-width="0.9"/>
<path d="M607.9,541.8 L609.7,540.0 H638.3 L640.1,541.8 V543.3 L638.3,545.0 H609.7 L607.9,543.3 Z" fill="#231f20"/>
<rect x="611.10" y="538.8" width="1.4" height="1.4" fill="#231f20"/>
<rect x="614.20" y="538.8" width="1.4" height="1.4" fill="#231f20"/>
<rect x="617.30" y="538.8" width="1.4" height="1.4" fill="#231f20"/>
<rect x="620.40" y="538.8" width="1.4" height="1.4" fill="#231f20"/>
<rect x="623.50" y="538.8" width="1.4" height="1.4" fill="#231f20"/>
<rect x="626.60" y="538.8" width="1.4" height="1.4" fill="#231f20"/>
<rect x="629.70" y="538.8" width="1.4" height="1.4" fill="#231f20"/>
<rect x="632.80" y="538.8" width="1.4" height="1.4" fill="#231f20"/>
<rect x="635.90" y="538.8" width="1.4" height="1.4" fill="#231f20"/>
<rect x="611.0" y="546.4" width="26" height="1.5" fill="#231f20"/>
<text x="551.25" y="565.4" font-size="7" fill="#4a4a4a" font-weight="normal" textLength="6.85" lengthAdjust="spacingAndGlyphs">IN</text>
<text x="616.90" y="565.4" font-size="7" fill="#4a4a4a" font-weight="normal" textLength="14.46" lengthAdjust="spacingAndGlyphs">OUT</text>
<path d="M283.6,39 L342.3,39 L342.3,190.8 L280.6,190.8 L280.6,288.8 L328.8,288.8" fill="none" stroke="#3a9fc2" stroke-width="1.5" stroke-linejoin="miter"/>
<path d="M226.9,128.5 L219.6,128.5 L219.6,391.3 L318.3,391.3 L318.3,489.8 L246.3,489.8 L246.3,513.8" fill="none" stroke="#6b8f56" stroke-width="1.5" stroke-linejoin="miter"/>
<path d="M415,166.5 L415,190.8 L378.9,190.8 L378.9,300 L355.6,300" fill="none" stroke="#6f4f73" stroke-width="1.5" stroke-linejoin="miter"/>
<path d="M532.1,142.1 L521,142.1 L521,190.3 L440.3,190.3 L440.3,314 L355.6,314" fill="none" stroke="#3a9fc2" stroke-width="1.5" stroke-linejoin="miter"/>
<path d="M469.1,145.7 L502.7,145.7 L502.7,186.4" fill="none" stroke="#a23c44" stroke-width="1.5" stroke-linejoin="miter"/>
<path d="M502.7,194.6 L502.7,264.5" fill="none" stroke="#a23c44" stroke-width="1.5" stroke-linejoin="miter"/>
<ellipse cx="502.7" cy="264.8" rx="3.9" ry="2.5" fill="#cc2229"/>
<path d="M362.7,132.5 L362.7,116.6 L593,116.6 L593,190.6 L571.4,190.6 L571.4,313.8 L600.2,313.8" fill="none" stroke="#a23c44" stroke-width="1.5" stroke-linejoin="miter"/>
<path d="M633.7,154 L633.7,287.5" fill="none" stroke="#3a9fc2" stroke-width="1.5" stroke-linejoin="miter"/>
<rect x="199.95" y="221.35" width="39.00" height="19.30" rx="9.65" fill="#fff" stroke="#6b8f56" stroke-width="1.3"/>
<text x="209.23" y="235.4" font-size="12" fill="#333" font-weight="bold" textLength="20.63" lengthAdjust="spacingAndGlyphs">Eth</text>
<path d="M280.6,202.8 L286.40000000000003,214.8 L280.6,213.10000000000002 L274.8,214.8 Z" fill="#1ba3d9"/>
<rect x="258.90" y="221.35" width="42.85" height="19.30" rx="9.65" fill="#fff" stroke="#3a9fc2" stroke-width="1.3"/>
<text x="268.12" y="235.4" font-size="12" fill="#333" font-weight="bold" textLength="24.92" lengthAdjust="spacingAndGlyphs">USB</text>
<path d="M378.9,202.9 L384.7,214.9 L378.9,213.20000000000002 L373.09999999999997,214.9 Z" fill="#73288a"/>
<rect x="350.25" y="221.35" width="56.50" height="19.30" rx="9.65" fill="#fff" stroke="#6f4f73" stroke-width="1.3"/>
<text x="361.90" y="235.4" font-size="12" fill="#333" font-weight="bold" textLength="35.50" lengthAdjust="spacingAndGlyphs">Audio</text>
<path d="M440.3,202.9 L446.1,214.9 L440.3,213.20000000000002 L434.5,214.9 Z" fill="#1ba3d9"/>
<rect x="413.85" y="221.35" width="52.40" height="19.30" rx="9.65" fill="#fff" stroke="#3a9fc2" stroke-width="1.3"/>
<text x="422.50" y="235.4" font-size="12" fill="#333" font-weight="bold" textLength="35.17" lengthAdjust="spacingAndGlyphs">HDMI</text>
<path d="M502.7,201.9 L508.5,213.9 L502.7,212.20000000000002 L496.9,213.9 Z" fill="#cc2229"/>
<rect x="481.65" y="221.35" width="42.10" height="19.30" rx="9.65" fill="#fff" stroke="#a23c44" stroke-width="1.3"/>
<text x="496.59" y="235.4" font-size="12" fill="#333" font-weight="bold" textLength="12.11" lengthAdjust="spacingAndGlyphs">IR</text>
<rect x="545.05" y="221.35" width="51.00" height="19.30" rx="9.65" fill="#fff" stroke="#a23c44" stroke-width="1.3"/>
<text x="550.22" y="235.4" font-size="12" fill="#333" font-weight="bold" textLength="41.99" lengthAdjust="spacingAndGlyphs">RS-232</text>
<path d="M633.6,267.7 L639.4,256.7 L633.6,258.4 L627.8000000000001,256.7 Z" fill="#1ba3d9"/>
<rect x="607.25" y="221.35" width="52.50" height="19.30" rx="9.65" fill="#fff" stroke="#3a9fc2" stroke-width="1.3"/>
<text x="615.90" y="235.4" font-size="12" fill="#333" font-weight="bold" textLength="35.44" lengthAdjust="spacingAndGlyphs">HDMI</text>
<rect x="174.1" y="303.9" width="91.2" height="28.9" rx="2.6" fill="#fff" stroke="#333" stroke-width="1.3"/>
<text x="179.07" y="324.1" font-size="15" fill="#333333" font-weight="normal" textLength="79.88" lengthAdjust="spacingAndGlyphs">LAN Switch</text>
<rect x="328.9" y="270" width="26.7" height="63.8" rx="1.8" fill="#fff" stroke="#666" stroke-width="1"/>
<rect x="331.4" y="274.4" width="22.4" height="31.3" rx="1.4" fill="#fff" stroke="#555" stroke-width="1.1"/>
<path d="M331.6,274.6 H353.6" stroke="#333" stroke-width="1.3"/>
<path d="M333,277.4 H352.2 M333,281.8 H352.2" stroke="#999" stroke-width="0.8"/>
<path d="M334,280 H340" stroke="#777" stroke-width="0.8"/>
<path d="M331.6,288.3 H353.6 M331.6,295.3 H353.6" stroke="#777" stroke-width="0.9"/>
<circle cx="340.8" cy="311.9" r="1.6" fill="#888" stroke="#555" stroke-width="0.7"/><circle cx="345.1" cy="311.9" r="1.6" fill="none" stroke="#666" stroke-width="0.8"/><circle cx="349.3" cy="311.9" r="1.6" fill="none" stroke="#666" stroke-width="0.8"/>
<path d="M328.9,318.9 H355.6 M328.9,325 H355.6 M328.9,327.7 H355.6" stroke="#777" stroke-width="0.9"/>
<path d="M328.9,322 H355.6" stroke="#bbb" stroke-width="0.8"/>
<text x="310.91" y="352.75" font-size="17" fill="#333333" font-weight="normal" textLength="59.87" lengthAdjust="spacingAndGlyphs">Server/</text>
<text x="287.67" y="374.1" font-size="17" fill="#333333" font-weight="normal" textLength="107.17" lengthAdjust="spacingAndGlyphs">Media Player</text>
<path d="M493.80,276.44 A11.3,11.3 0 0 1 511.60,276.44 M496.06,278.75 A8.1,8.1 0 0 1 509.34,278.75 M498.81,281.83 A4.2,4.2 0 0 1 506.59,281.83 " fill="none" stroke="#555" stroke-width="1"/>
<rect x="494" y="284.5" width="17.9" height="48.9" rx="2.2" fill="#fff" stroke="#444" stroke-width="1.2"/>
<rect x="499.3" y="289.0" width="1.4" height="1.4" fill="#333"/><rect x="505.1" y="289.0" width="1.4" height="1.4" fill="#333"/>
<rect x="499.3" y="294.3" width="1.4" height="1.4" fill="#333"/><rect x="505.1" y="294.3" width="1.4" height="1.4" fill="#333"/>
<rect x="499.3" y="298.8" width="1.4" height="1.4" fill="#333"/><rect x="505.1" y="298.8" width="1.4" height="1.4" fill="#333"/>
<rect x="499.3" y="302.90000000000003" width="1.4" height="1.4" fill="#333"/><rect x="505.1" y="302.90000000000003" width="1.4" height="1.4" fill="#333"/>
<rect x="499.3" y="320.1" width="1.4" height="1.4" fill="#333"/><rect x="505.1" y="320.1" width="1.4" height="1.4" fill="#333"/>
<rect x="499.3" y="324.3" width="1.4" height="1.4" fill="#333"/><rect x="505.1" y="324.3" width="1.4" height="1.4" fill="#333"/>
<rect x="499.3" y="328.6" width="1.4" height="1.4" fill="#333"/><rect x="505.1" y="328.6" width="1.4" height="1.4" fill="#333"/>
<circle cx="502.8" cy="312.6" r="3.7" fill="none" stroke="#444" stroke-width="1"/>
<text x="473.29" y="353.6" font-size="17" fill="#333333" font-weight="normal" textLength="56.56" lengthAdjust="spacingAndGlyphs">Display</text>
<text x="471.37" y="374.6" font-size="17" fill="#333333" font-weight="normal" textLength="61.17" lengthAdjust="spacingAndGlyphs">Remote</text>
<text x="472.11" y="395.5" font-size="17" fill="#333333" font-weight="normal" textLength="59.78" lengthAdjust="spacingAndGlyphs">Control</text>
<rect x="600.7" y="288.0" width="53.8" height="35.9" rx="1.8" fill="#fff" stroke="#555" stroke-width="1.1"/>
<rect x="602.7" y="290.2" width="49.8" height="31.6" fill="#fff" stroke="#444" stroke-width="1.2"/>
<path d="M614.6,326.4 H641.4000000000001 L645.8000000000001,332.1 Q627.7,335.3 609.3000000000001,332.1 Z" fill="#fff" stroke="#555" stroke-width="1"/>
<path d="M621.3000000000001,324.1 V329.1 Q621.3000000000001,330.5 622.8000000000001,330.5 H632.6 Q634.1,330.5 634.1,329.1 V324.1" fill="#fff" stroke="#555" stroke-width="1"/>
<text x="596.62" y="353.8" font-size="17" fill="#333333" font-weight="normal" textLength="60.01" lengthAdjust="spacingAndGlyphs">Display</text>
<path d="M280.6,417.1 L280.6,410.9 L142.5,410.9 L142.5,712.3" fill="none" stroke="#3a9fc2" stroke-width="1.5" stroke-linejoin="miter"/>
<path d="M239.4,439.3 L222,439.3 L222,716.9" fill="none" stroke="#3a9fc2" stroke-width="1.5" stroke-linejoin="miter"/>
<path d="M414.8,566 L414.8,591.5 L318.2,591.5 L318.2,732.3" fill="none" stroke="#6f4f73" stroke-width="1.5" stroke-linejoin="miter"/>
<path d="M461.1,552.8 L461.1,733.8 L597.9,733.8" fill="none" stroke="#a23c44" stroke-width="1.5" stroke-linejoin="miter"/>
<path d="M362.7,532.4 L362.7,518.2 L502.5,518.2 L502.5,590.7 L558.7,590.7 L558.7,712.8 L597.9,712.8" fill="none" stroke="#a23c44" stroke-width="1.5" stroke-linejoin="miter"/>
<path d="M624.6,568 L624.6,704.4" fill="none" stroke="#3a9fc2" stroke-width="1.5" stroke-linejoin="miter"/>
<rect x="120.55" y="639.55" width="43.30" height="19.30" rx="9.65" fill="#fff" stroke="#3a9fc2" stroke-width="1.3"/>
<text x="130.11" y="653.6" font-size="12" fill="#333" font-weight="bold" textLength="25.13" lengthAdjust="spacingAndGlyphs">USB</text>
<path d="M142.5,609.7 L148.3,621.7 L142.5,620.0 L136.7,621.7 Z" fill="#1ba3d9"/>
<rect x="200.85" y="639.55" width="42.10" height="19.30" rx="9.65" fill="#fff" stroke="#3a9fc2" stroke-width="1.3"/>
<text x="209.42" y="653.6" font-size="12" fill="#333" font-weight="bold" textLength="24.92" lengthAdjust="spacingAndGlyphs">USB</text>
<path d="M222,609.7 L227.8,621.7 L222,620.0 L216.2,621.7 Z" fill="#1ba3d9"/>
<rect x="289.50" y="639.55" width="56.95" height="19.30" rx="9.65" fill="#fff" stroke="#6f4f73" stroke-width="1.3"/>
<text x="301.10" y="653.6" font-size="12" fill="#333" font-weight="bold" textLength="36.05" lengthAdjust="spacingAndGlyphs">Audio</text>
<path d="M318.2,688.6 L324.0,677.6 L318.2,679.3000000000001 L312.4,677.6 Z" fill="#73288a"/>
<rect x="440.00" y="639.55" width="42.10" height="19.30" rx="9.65" fill="#fff" stroke="#a23c44" stroke-width="1.3"/>
<text x="455.16" y="653.6" font-size="12" fill="#333" font-weight="bold" textLength="11.84" lengthAdjust="spacingAndGlyphs">IR</text>
<path d="M461.1,688.6 L466.90000000000003,677.6 L461.1,679.3000000000001 L455.3,677.6 Z" fill="#cc2229"/>
<rect x="533.25" y="639.55" width="52.45" height="19.30" rx="9.65" fill="#fff" stroke="#a23c44" stroke-width="1.3"/>
<text x="538.57" y="653.6" font-size="12" fill="#333" font-weight="bold" textLength="42.04" lengthAdjust="spacingAndGlyphs">RS-232</text>
<rect x="598.55" y="639.55" width="51.90" height="19.30" rx="9.65" fill="#fff" stroke="#3a9fc2" stroke-width="1.3"/>
<text x="606.74" y="653.6" font-size="12" fill="#333" font-weight="bold" textLength="35.54" lengthAdjust="spacingAndGlyphs">HDMI</text>
<path d="M624.7,689.2 L630.5,678.2 L624.7,679.9000000000001 L618.9000000000001,678.2 Z" fill="#1ba3d9"/>
<path d="M128.9,724 C128.9,716 135,712.3 142.4,712.3 C149.8,712.3 155.9,716 155.9,724 V737 C155.9,745 149.8,750.8 142.4,750.8 C135,750.8 128.9,745 128.9,737 Z" fill="#fff" stroke="#444" stroke-width="1.2"/>
<path d="M128.9,723.5 Q142.4,731 155.9,723.5" fill="none" stroke="#444" stroke-width="1.1"/>
<ellipse cx="142.4" cy="719.8" rx="1.3" ry="3.4" fill="#fff" stroke="#444" stroke-width="1"/>
<path d="M142.4,712.3 V716.4 M142.4,723.2 V727.2" stroke="#444" stroke-width="1"/>
<rect x="111.9" y="759.9" width="3" height="7.7" fill="#9a9a9a"/><rect x="111.9" y="767.6" width="3" height="8.3" fill="#dadada"/>
<text x="114.61" y="771.75" font-size="17" fill="#333333" font-weight="normal" textLength="55.51" lengthAdjust="spacingAndGlyphs">Mouse</text>
<rect x="185.1" y="716.9" width="73.6" height="33.1" rx="1.6" fill="#fff" stroke="#444" stroke-width="1.2"/>
<rect x="189.70" y="721.75" width="4.2" height="4.2" rx="0.4" fill="none" stroke="#444" stroke-width="1"/>
<rect x="198.30" y="721.75" width="4.2" height="4.2" rx="0.4" fill="none" stroke="#444" stroke-width="1"/>
<rect x="207.00" y="721.75" width="4.2" height="4.2" rx="0.4" fill="none" stroke="#444" stroke-width="1"/>
<rect x="215.60" y="721.75" width="4.2" height="4.2" rx="0.4" fill="none" stroke="#444" stroke-width="1"/>
<rect x="224.20" y="721.75" width="4.2" height="4.2" rx="0.4" fill="none" stroke="#444" stroke-width="1"/>
<rect x="232.90" y="721.75" width="4.2" height="4.2" rx="0.4" fill="none" stroke="#444" stroke-width="1"/>
<rect x="241.50" y="721.75" width="4.2" height="4.2" rx="0.4" fill="none" stroke="#444" stroke-width="1"/>
<rect x="250.20" y="721.75" width="4.2" height="4.2" rx="0.4" fill="none" stroke="#444" stroke-width="1"/>
<rect x="189.70" y="730.50" width="4.2" height="4.2" rx="0.4" fill="none" stroke="#444" stroke-width="1"/>
<rect x="198.30" y="730.50" width="4.2" height="4.2" rx="0.4" fill="none" stroke="#444" stroke-width="1"/>
<rect x="207.00" y="730.50" width="4.2" height="4.2" rx="0.4" fill="none" stroke="#444" stroke-width="1"/>
<rect x="215.60" y="730.50" width="4.2" height="4.2" rx="0.4" fill="none" stroke="#444" stroke-width="1"/>
<rect x="224.20" y="730.50" width="4.2" height="4.2" rx="0.4" fill="none" stroke="#444" stroke-width="1"/>
<rect x="232.90" y="730.50" width="4.2" height="4.2" rx="0.4" fill="none" stroke="#444" stroke-width="1"/>
<rect x="241.50" y="730.50" width="4.2" height="4.2" rx="0.4" fill="none" stroke="#444" stroke-width="1"/>
<rect x="250.20" y="730.50" width="4.2" height="4.2" rx="0.4" fill="none" stroke="#444" stroke-width="1"/>
<rect x="189.70" y="739.2" width="4.2" height="4.2" rx="0.4" fill="none" stroke="#444" stroke-width="1"/>
<rect x="198.30" y="739.2" width="4.2" height="4.2" rx="0.4" fill="none" stroke="#444" stroke-width="1"/>
<rect x="241.50" y="739.2" width="4.2" height="4.2" rx="0.4" fill="none" stroke="#444" stroke-width="1"/>
<rect x="250.20" y="739.2" width="4.2" height="4.2" rx="0.4" fill="none" stroke="#444" stroke-width="1"/>
<rect x="207" y="739.4" width="29.8" height="3.9" rx="0.5" fill="none" stroke="#444" stroke-width="1"/>
<text x="182.83" y="771.4" font-size="17" fill="#333333" font-weight="normal" textLength="78.11" lengthAdjust="spacingAndGlyphs">Keyboard</text>
<path d="M291.3,735.6 L298.6,732.3 H338.5 L345.8,735.6" fill="none" stroke="#444" stroke-width="1"/>
<rect x="291.3" y="735.6" width="54.5" height="14" rx="2" fill="#fff" stroke="#444" stroke-width="1.1"/>
<circle cx="300" cy="742.6" r="3.4" fill="none" stroke="#444" stroke-width="1"/><circle cx="337.4" cy="742.6" r="3.4" fill="none" stroke="#444" stroke-width="1"/>
<rect x="311.3" y="739" width="14.8" height="7.2" rx="1" fill="none" stroke="#444" stroke-width="1"/>
<path d="M319.5,745 L323.5,740.8" stroke="#444" stroke-width="0.9"/>
<rect x="306" y="738.8" width="2" height="7.6" fill="#555"/><rect x="328.6" y="738.8" width="2" height="7.6" fill="#555"/>
<path d="M296,749.6 H301 M336,749.6 H341" stroke="#444" stroke-width="1.5"/>
<path d="M300,742.6 L302.2,744.8 M337.4,742.6 L335.2,740.4" stroke="#444" stroke-width="0.9"/>
<text x="294.60" y="772.4" font-size="17" fill="#333333" font-weight="normal" textLength="47.83" lengthAdjust="spacingAndGlyphs">Audio</text>
<text x="281.50" y="794" font-size="17" fill="#333333" font-weight="normal" textLength="74.44" lengthAdjust="spacingAndGlyphs">Amplifier</text>
<rect x="598.6" y="704.6" width="53.8" height="35.9" rx="1.8" fill="#fff" stroke="#555" stroke-width="1.1"/>
<rect x="600.6" y="706.8000000000001" width="49.8" height="31.6" fill="#fff" stroke="#444" stroke-width="1.2"/>
<path d="M612.5,743.0 H639.3000000000001 L643.7,748.7 Q625.6,751.9 607.2,748.7 Z" fill="#fff" stroke="#555" stroke-width="1"/>
<path d="M619.2,740.7 V745.7 Q619.2,747.1 620.7,747.1 H630.5 Q632.0,747.1 632.0,745.7 V740.7" fill="#fff" stroke="#555" stroke-width="1"/>
<circle cx="597.9" cy="733.7" r="2.4" fill="#a23c44"/>
<text x="594.53" y="772.5" font-size="17" fill="#333333" font-weight="normal" textLength="59.60" lengthAdjust="spacingAndGlyphs">Display</text>
</svg></body></html>
